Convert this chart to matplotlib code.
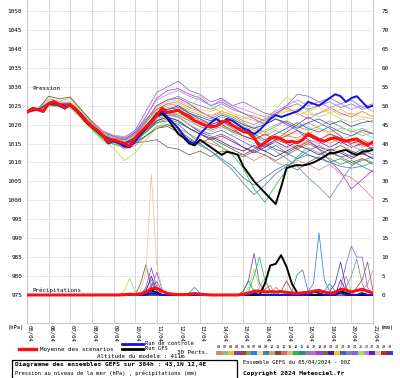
import matplotlib
matplotlib.use('Agg')
import matplotlib.pyplot as plt
from matplotlib.lines import Line2D
from matplotlib.patches import Rectangle
import numpy as np

W, H = 400, 378
MONO = 'DejaVu Sans Mono'

# ---- data ----
days = ['05/04', '06/04', '07/04', '08/04', '09/04', '10/04', '11/04', '12/04', '13/04',
        '14/04', '15/04', '16/04', '17/04', '18/04', '19/04', '20/04', '21/04']
hours6 = np.arange(0, 385, 6)
hours12 = np.arange(0, 385, 12)

mean_p = [1023.3, 1024.2, 1024.0, 1023.5, 1025.5, 1026.0, 1025.3, 1024.5, 1025.2, 1024.2,
          1022.5, 1020.8, 1019.6, 1018.5, 1017.2, 1015.3, 1016.0, 1015.5, 1015.0, 1014.3,
          1016.5, 1018.0, 1019.3, 1020.6, 1022.5, 1024.3, 1023.2, 1023.5, 1023.8, 1022.8,
          1022.2, 1021.0, 1020.4, 1019.8, 1019.5, 1019.6, 1020.6, 1021.0, 1019.8, 1019.0,
          1018.2, 1017.8, 1016.5, 1014.3, 1015.2, 1016.3, 1016.7, 1016.2, 1015.4, 1015.6,
          1015.2, 1016.0, 1017.5, 1016.8, 1016.0, 1015.6, 1016.2, 1016.5, 1016.0, 1015.6,
          1016.0, 1016.2, 1015.2, 1014.6, 1015.4]
ctrl_p = [1023.2, 1024.0, 1023.8, 1023.4, 1025.6, 1026.2, 1025.0, 1024.2, 1025.3, 1024.0,
          1022.8, 1021.0, 1019.4, 1018.2, 1017.0, 1015.0, 1015.6, 1015.2, 1014.2, 1014.0,
          1015.5, 1017.5, 1019.5, 1021.0, 1023.0, 1023.5, 1022.0, 1020.5, 1019.0, 1017.0,
          1015.5, 1015.0, 1017.5, 1019.0, 1020.5, 1021.5, 1020.5, 1021.5, 1021.0, 1020.0,
          1019.0, 1018.5, 1017.5, 1018.5, 1020.0, 1021.5, 1022.5, 1022.0, 1022.5, 1023.0,
          1023.5, 1024.5, 1026.0, 1025.5, 1025.0, 1026.0, 1027.0, 1028.0, 1027.5, 1026.0,
          1027.0, 1027.5, 1026.0, 1024.5, 1025.0]
gfs_p = [1023.4, 1024.3, 1024.1, 1023.6, 1025.4, 1025.8, 1025.4, 1024.8, 1025.0, 1024.0,
         1022.2, 1020.5, 1019.4, 1018.3, 1017.0, 1015.5, 1015.8, 1015.2, 1014.6, 1014.5,
         1016.0, 1017.5, 1019.0, 1021.0, 1022.5, 1023.0, 1021.5, 1019.5, 1017.5, 1016.5,
         1015.0, 1014.5, 1016.0, 1015.0, 1014.0, 1013.0, 1012.0, 1012.8, 1012.5, 1012.0,
         1009.0, 1007.0, 1005.0, 1003.5, 1002.0, 1000.5, 999.0, 1003.5, 1008.5, 1009.0,
         1009.3, 1009.2, 1009.5, 1010.0, 1010.7, 1011.5, 1012.5, 1012.5, 1013.0, 1013.3,
         1012.5, 1012.0, 1012.8, 1013.0, 1013.3]

mean_rr = [0, 0, 0, 0, 0, 0, 0, 0, 0, 0, 0, 0, 0, 0, 0, 0, 0, 0, 0.1, 0.2,
           0.1, 0.3, 0.8, 1.6, 1.8, 1.0, 0.4, 0.2, 0.1, 0.1, 0.2, 0.4, 0.2, 0.1, 0, 0, 0, 0, 0, 0,
           0.2, 0.5, 1.0, 1.0, 0.8, 0.9, 0.8, 0.9, 0.7, 0.5, 0.4, 0.6, 0.7, 1.0, 1.2, 0.8, 0.4, 0.7, 1.5, 1.3,
           0.8, 1.2, 1.5, 1.0, 0.5]
ctrl_rr = [0, 0, 0, 0, 0, 0, 0, 0, 0, 0, 0, 0, 0, 0, 0, 0, 0, 0, 0, 0,
           0, 0, 0, 0.5, 0.3, 0, 0, 0, 0, 0, 0, 0, 0, 0, 0, 0, 0, 0, 0, 0,
           0, 0, 0.5, 0, 0, 0, 0, 0, 0, 0, 0, 0, 0, 0.8, 0.5, 0, 0, 0, 0.6, 0,
           0, 0, 0.5, 0, 0]
gfs_rr = [0, 0, 0, 0, 0, 0, 0, 0, 0, 0, 0, 0, 0, 0, 0, 0, 0, 0, 0, 0,
          0, 0, 0.5, 1.2, 0.6, 0, 0, 0, 0, 0, 0, 0, 0, 0, 0, 0, 0, 0, 0, 0,
          0, 0, 0, 0, 3.0, 7.8, 8.2, 10.5, 7.5, 3.0, 0.5, 0, 0, 0, 0, 0, 0, 0, 1.0, 0.5,
          0, 0, 0, 0, 0]

# perturbation sea level pressure, every 12 h
p01 = [1023.5, 1024.2, 1025.8, 1025.0, 1025.6, 1023.0, 1020.0, 1017.0, 1015.5, 1013.5, 1014.5,
       1017.0, 1019.5, 1020.0, 1019.0, 1017.5, 1016.0, 1015.0, 1014.0, 1012.5, 1012.0, 1010.5,
       1012.0, 1010.0, 1009.0, 1010.5, 1009.5, 1008.0, 1009.5, 1007.0, 1006.0, 1003.5, 1000.5]
p02 = [1023.4, 1024.1, 1025.3, 1025.4, 1025.0, 1022.0, 1019.0, 1016.5, 1015.0, 1014.0, 1016.0,
       1019.0, 1022.0, 1023.5, 1022.5, 1021.0, 1020.5, 1019.0, 1020.0, 1018.0, 1019.5, 1017.0,
       1018.5, 1020.0, 1021.0, 1019.5, 1020.5, 1019.0, 1018.0, 1019.0, 1018.5, 1017.0, 1018.0]
p03 = [1023.2, 1024.0, 1025.6, 1025.5, 1025.4, 1022.8, 1020.0, 1017.5, 1016.5, 1015.5, 1017.0,
       1020.5, 1024.5, 1026.0, 1026.5, 1025.0, 1024.0, 1023.5, 1024.5, 1023.0, 1022.0, 1021.0,
       1020.5, 1022.0, 1023.5, 1024.0, 1022.5, 1023.0, 1024.0, 1022.5, 1023.0, 1022.0, 1021.5]
p04 = [1023.3, 1024.2, 1025.7, 1025.2, 1025.3, 1022.6, 1019.4, 1017.0, 1016.2, 1015.4, 1017.5,
       1021.0, 1025.0, 1026.5, 1027.0, 1025.5, 1023.5, 1022.0, 1021.0, 1019.0, 1017.0, 1016.0,
       1014.0, 1016.0, 1018.0, 1020.0, 1022.0, 1020.5, 1019.0, 1017.0, 1014.5, 1013.0, 1014.0]
p05 = [1023.3, 1023.8, 1025.0, 1024.8, 1024.8, 1022.0, 1019.2, 1016.8, 1015.5, 1014.8, 1015.5,
       1018.0, 1021.0, 1022.0, 1021.0, 1019.0, 1017.5, 1016.5, 1017.5, 1016.0, 1014.0, 1013.0,
       1014.5, 1016.0, 1015.0, 1013.5, 1015.0, 1013.5, 1012.0, 1013.0, 1011.5, 1012.5, 1011.0]
p06 = [1023.4, 1024.3, 1026.0, 1025.6, 1025.8, 1023.0, 1020.5, 1018.0, 1016.8, 1016.0, 1018.0,
       1021.5, 1024.0, 1025.5, 1025.0, 1023.5, 1022.5, 1021.5, 1023.0, 1022.0, 1020.5, 1019.0,
       1018.0, 1019.5, 1021.0, 1019.5, 1018.5, 1019.5, 1021.0, 1019.5, 1018.0, 1019.0, 1017.5]
p07 = [1023.3, 1024.0, 1025.4, 1025.3, 1025.6, 1022.7, 1019.8, 1017.4, 1016.0, 1014.5, 1015.8,
       1018.5, 1021.5, 1022.5, 1022.0, 1020.0, 1018.5, 1017.5, 1018.5, 1017.0, 1015.5, 1014.0,
       1013.0, 1014.5, 1012.5, 1011.0, 1013.0, 1014.5, 1013.0, 1011.5, 1012.0, 1013.5, 1012.0]
p08 = [1023.2, 1024.1, 1026.5, 1026.0, 1026.5, 1023.5, 1020.5, 1018.0, 1016.5, 1015.5, 1017.0,
       1019.5, 1022.0, 1023.0, 1022.0, 1020.5, 1019.5, 1018.0, 1019.0, 1018.5, 1017.0, 1016.0,
       1017.5, 1019.0, 1018.0, 1017.5, 1019.5, 1018.5, 1017.0, 1018.5, 1019.0, 1018.0, 1019.5]
p09 = [1023.4, 1024.0, 1025.2, 1025.0, 1024.8, 1022.2, 1019.4, 1017.0, 1015.8, 1014.8, 1016.0,
       1018.0, 1020.5, 1021.0, 1020.0, 1017.5, 1015.0, 1013.0, 1010.5, 1008.0, 1004.5, 1001.5,
       1004.0, 1007.0, 1009.0, 1011.0, 1012.0, 1011.0, 1010.0, 1009.0, 1008.5, 1009.0, 1007.5]
p10 = [1023.3, 1024.2, 1026.8, 1026.2, 1027.0, 1023.8, 1020.8, 1018.5, 1017.0, 1016.0, 1017.5,
       1020.0, 1023.0, 1024.5, 1024.0, 1022.5, 1021.5, 1020.5, 1022.0, 1021.0, 1019.5, 1018.5,
       1017.0, 1018.5, 1017.0, 1016.5, 1018.0, 1016.5, 1015.0, 1016.5, 1015.5, 1014.0, 1015.0]
p11 = [1023.3, 1024.0, 1027.5, 1026.8, 1027.3, 1024.0, 1020.8, 1018.0, 1016.5, 1015.0, 1015.5,
       1017.0, 1019.0, 1019.5, 1018.0, 1016.0, 1015.0, 1016.5, 1015.0, 1013.5, 1012.0, 1013.5,
       1015.0, 1013.5, 1012.5, 1014.0, 1015.5, 1014.0, 1013.0, 1014.5, 1013.0, 1012.0, 1013.5]
p12 = [1023.4, 1024.1, 1025.6, 1025.4, 1025.2, 1022.5, 1019.6, 1017.2, 1016.0, 1015.2, 1016.8,
       1019.5, 1022.5, 1023.5, 1024.0, 1022.5, 1021.0, 1020.0, 1021.0, 1020.0, 1018.5, 1017.0,
       1015.5, 1017.0, 1015.5, 1014.0, 1016.0, 1015.0, 1016.5, 1015.0, 1016.0, 1014.5, 1015.5]
p13 = [1023.2, 1023.9, 1025.0, 1024.7, 1024.6, 1022.0, 1019.0, 1016.5, 1015.5, 1014.6, 1015.8,
       1018.5, 1021.5, 1022.5, 1023.0, 1021.5, 1020.0, 1019.0, 1020.5, 1019.0, 1018.0, 1019.5,
       1018.0, 1016.5, 1017.5, 1016.0, 1017.5, 1019.0, 1017.5, 1016.0, 1017.0, 1018.0, 1016.5]
p14 = [1023.3, 1024.2, 1025.4, 1025.1, 1025.0, 1022.0, 1018.8, 1016.0, 1014.8, 1014.0, 1015.5,
       1018.0, 1020.5, 1021.5, 1020.5, 1019.0, 1017.5, 1016.0, 1014.0, 1012.0, 1008.5, 1003.0,
       999.5, 1004.0, 1008.0, 1011.5, 1014.0, 1012.5, 1011.0, 1009.5, 1010.5, 1009.0, 1010.0]
p15 = [1023.3, 1024.0, 1025.2, 1025.0, 1025.0, 1022.3, 1019.3, 1016.8, 1015.5, 1014.2, 1015.0,
       1017.0, 1019.0, 1020.0, 1018.5, 1016.5, 1014.5, 1013.0, 1011.0, 1009.0, 1006.0, 1004.0,
       1006.0, 1008.0, 1009.5, 1008.0, 1010.0, 1011.5, 1010.0, 1011.0, 1009.5, 1010.5, 1011.5]
p16 = [1023.4, 1024.1, 1025.6, 1025.4, 1025.3, 1022.6, 1019.7, 1017.3, 1016.1, 1015.0, 1016.6,
       1019.0, 1022.0, 1023.0, 1022.5, 1021.0, 1019.5, 1018.5, 1019.5, 1018.0, 1017.0, 1016.0,
       1014.5, 1013.0, 1011.0, 1009.0, 1006.0, 1003.5, 1000.6, 1005.0, 1009.0, 1011.0, 1010.0]
p17 = [1023.3, 1024.1, 1025.8, 1025.6, 1025.5, 1022.8, 1019.9, 1017.6, 1016.6, 1015.8, 1017.4,
       1020.5, 1024.0, 1025.5, 1026.0, 1024.5, 1023.5, 1022.0, 1023.5, 1022.5, 1021.0, 1020.0,
       1021.5, 1023.0, 1024.5, 1023.0, 1021.5, 1023.0, 1024.5, 1023.0, 1022.0, 1023.5, 1022.0]
p18 = [1023.3, 1024.0, 1025.4, 1025.2, 1025.2, 1022.6, 1019.8, 1017.5, 1016.5, 1016.0, 1018.0,
       1022.0, 1027.0, 1029.0, 1029.5, 1028.0, 1027.0, 1025.0, 1026.0, 1024.5, 1023.0, 1021.5,
       1020.0, 1021.5, 1020.0, 1018.5, 1016.0, 1013.5, 1010.5, 1007.5, 1003.0, 1005.5, 1008.0]
p19 = [1023.2, 1023.8, 1025.1, 1024.9, 1024.8, 1022.1, 1019.1, 1016.6, 1015.4, 1014.4, 1015.2,
       1015.5, 1016.0, 1014.0, 1013.5, 1012.0, 1013.0, 1011.5, 1013.0, 1012.5, 1011.5, 1013.0,
       1012.0, 1010.5, 1012.0, 1013.5, 1012.0, 1011.0, 1012.5, 1011.5, 1010.0, 1011.0, 1009.5]
p20 = [1023.3, 1024.1, 1025.5, 1025.3, 1025.1, 1022.4, 1019.5, 1017.1, 1015.9, 1015.0, 1016.2,
       1019.0, 1022.0, 1023.0, 1022.0, 1020.0, 1018.0, 1017.0, 1015.5, 1014.0, 1013.0, 1014.5,
       1013.0, 1011.5, 1013.0, 1014.5, 1013.5, 1012.0, 1013.5, 1012.5, 1011.0, 1012.5, 1011.0]
p21 = [1023.3, 1024.2, 1025.6, 1025.4, 1025.4, 1022.7, 1019.8, 1017.4, 1016.3, 1015.5, 1017.0,
       1020.0, 1023.5, 1025.0, 1025.5, 1024.0, 1023.0, 1022.5, 1023.5, 1022.5, 1021.5, 1022.5,
       1021.0, 1022.5, 1024.0, 1022.5, 1023.5, 1024.5, 1023.0, 1024.0, 1022.5, 1023.5, 1022.0]
p22 = [1023.4, 1024.0, 1025.3, 1025.2, 1025.0, 1022.4, 1019.5, 1017.0, 1015.8, 1014.8, 1016.2,
       1019.0, 1022.5, 1024.0, 1024.5, 1023.0, 1021.5, 1020.0, 1021.0, 1019.5, 1018.5, 1017.5,
       1016.0, 1017.5, 1019.0, 1020.5, 1019.0, 1018.0, 1019.5, 1018.0, 1017.0, 1018.5, 1017.5]
p23 = [1023.3, 1024.1, 1025.7, 1025.5, 1025.5, 1022.9, 1020.1, 1017.8, 1016.8, 1016.2, 1017.8,
       1021.0, 1025.0, 1026.5, 1027.5, 1026.0, 1025.0, 1024.0, 1025.5, 1024.0, 1023.0, 1022.0,
       1021.0, 1023.0, 1024.5, 1025.5, 1024.0, 1025.0, 1026.0, 1024.5, 1025.5, 1024.0, 1025.0]
p24 = [1023.3, 1024.1, 1025.8, 1025.6, 1025.6, 1023.0, 1020.3, 1018.0, 1017.0, 1016.5, 1018.5,
       1023.5, 1028.5, 1030.0, 1031.5, 1029.0, 1028.0, 1026.0, 1027.0, 1025.0, 1026.0, 1024.5,
       1023.0, 1022.5, 1025.0, 1028.0, 1027.5, 1026.0, 1027.0, 1025.5, 1026.5, 1024.5, 1025.5]
p25 = [1023.2, 1024.0, 1025.0, 1024.6, 1024.3, 1021.6, 1018.5, 1015.8, 1013.8, 1010.5, 1012.5,
       1016.0, 1019.0, 1021.0, 1022.0, 1024.0, 1027.8, 1025.0, 1023.0, 1021.5, 1020.0, 1019.0,
       1021.0, 1024.0, 1027.3, 1025.5, 1023.5, 1022.0, 1023.0, 1021.5, 1020.5, 1021.5, 1020.5]
p26 = [1023.4, 1024.2, 1026.0, 1025.8, 1025.8, 1023.2, 1020.4, 1018.2, 1017.2, 1016.8, 1018.2,
       1022.0, 1026.5, 1028.0, 1029.0, 1027.5, 1026.5, 1025.0, 1026.5, 1025.0, 1024.0, 1023.0,
       1022.0, 1023.5, 1025.0, 1026.5, 1025.0, 1026.0, 1024.5, 1025.5, 1024.0, 1025.0, 1023.5]
p27 = [1023.3, 1024.0, 1025.3, 1025.1, 1025.0, 1022.4, 1019.4, 1017.0, 1015.8, 1014.8, 1016.0,
       1018.5, 1021.0, 1022.0, 1021.0, 1019.0, 1017.5, 1016.0, 1017.0, 1015.5, 1014.0, 1012.5,
       1014.0, 1015.5, 1014.0, 1015.5, 1017.0, 1015.5, 1014.0, 1015.5, 1014.0, 1015.0, 1013.5]
p28 = [1023.3, 1024.1, 1026.2, 1025.9, 1026.0, 1023.3, 1020.3, 1017.8, 1016.6, 1015.6, 1017.0,
       1019.5, 1022.5, 1023.0, 1022.0, 1020.0, 1018.5, 1017.0, 1016.0, 1017.5, 1016.5, 1015.0,
       1016.5, 1015.0, 1013.5, 1015.0, 1014.0, 1012.5, 1014.0, 1013.0, 1014.5, 1013.0, 1012.0]
p29 = [1023.3, 1024.0, 1025.5, 1025.2, 1025.1, 1022.5, 1019.5, 1017.2, 1016.0, 1015.0, 1016.5,
       1019.0, 1022.0, 1023.0, 1023.5, 1021.5, 1020.5, 1019.0, 1020.0, 1018.5, 1017.0, 1016.0,
       1017.5, 1016.0, 1017.0, 1018.5, 1017.0, 1016.0, 1017.5, 1016.5, 1015.0, 1016.0, 1014.5]
p30 = [1023.4, 1024.1, 1025.6, 1025.4, 1025.4, 1022.6, 1019.6, 1017.2, 1016.0, 1015.2, 1016.6,
       1019.5, 1023.0, 1024.0, 1025.0, 1023.0, 1022.0, 1021.0, 1022.5, 1021.5, 1020.0, 1019.0,
       1020.0, 1021.5, 1020.5, 1019.0, 1020.5, 1021.5, 1020.0, 1021.0, 1019.5, 1020.5, 1021.0]
pert_p = [p01, p02, p03, p04, p05, p06, p07, p08, p09, p10, p11, p12, p13, p14, p15,
          p16, p17, p18, p19, p20, p21, p22, p23, p24, p25, p26, p27, p28, p29, p30]

pert_colors = ['#e8806a', '#90c080', '#e8c040', '#8040a0', '#a04040', '#80a060', '#3080e0',
               '#e8d8b0', '#4080c0', '#d0a060', '#6a5838', '#f06060', '#c8c080', '#20c040',
               '#408080', '#7090a0', '#d060d0', '#a040e0', '#806050', '#4020a0', '#f0d020',
               '#4060c0', '#8080c0', '#9060e0', '#a0e060', '#c080e0', '#6020c0', '#e0c8a0',
               '#c03020', '#3040c0']

# perturbation precipitation (mm / 6 h): member, 6 h step, amount
rain_member = [25, 25, 25, 11, 11, 11, 28, 28, 28, 28, 28, 18, 18, 18, 24, 24, 24, 20, 20, 20,
               4, 4, 16, 16, 16, 13, 13, 5, 5, 5, 9, 9, 9,
               4, 4, 4, 4, 4, 14, 14, 14, 14, 14, 25, 25, 25, 15, 15, 15, 5, 5, 5,
               9, 9, 9, 9, 7, 7, 7, 7, 7, 30, 30, 30, 30, 24, 24, 24, 24, 24, 24,
               16, 16, 16, 16, 19, 19, 19, 19, 1, 1, 1, 15, 15, 15, 27, 27, 10, 10,
               2, 2, 2, 6, 6, 12, 12]
rain_step = [18, 19, 20, 21, 22, 23, 21, 22, 23, 24, 25, 22, 23, 24, 23, 24, 25, 22, 23, 24,
             23, 24, 22, 23, 24, 23, 24, 23, 24, 25, 30, 31, 32,
             40, 41, 42, 43, 44, 41, 42, 43, 44, 45, 41, 42, 43, 40, 41, 42, 47, 48, 49,
             49, 50, 51, 52, 52, 53, 54, 55, 56, 56, 57, 58, 59, 58, 59, 60, 61, 62, 63,
             59, 60, 61, 62, 61, 62, 63, 64, 62, 63, 64, 55, 56, 57, 58, 59, 59, 60,
             43, 44, 45, 46, 47, 44, 45]
rain_mm = [1.0, 4.5, 0.5, 3.0, 8.0, 2.0, 1.0, 6.0, 32.0, 8.0, 1.5, 2.0, 7.2, 2.0, 2.0, 6.0, 1.5, 1.0, 5.0, 1.0,
           3.0, 1.0, 1.5, 4.0, 1.0, 3.0, 2.0, 2.5, 3.5, 1.0, 0.5, 2.0, 0.5,
           1.0, 4.0, 11.0, 3.0, 1.0, 1.0, 5.0, 10.0, 4.0, 1.0, 2.0, 6.8, 2.0, 1.0, 3.7, 1.0, 1.0, 3.7, 1.0,
           1.0, 5.5, 6.6, 1.0, 1.0, 3.0, 16.4, 4.0, 1.0, 1.0, 3.0, 8.7, 2.0, 2.0, 8.0, 12.9, 10.0, 10.0, 2.0,
           2.0, 5.0, 9.5, 3.0, 2.0, 4.0, 8.7, 1.0, 1.0, 3.0, 6.5, 1.0, 3.0, 1.0, 4.0, 1.0, 5.0, 1.0,
           2.0, 4.5, 1.0, 2.0, 1.0, 1.5, 2.5]

pert_rr = np.zeros((len(pert_p), len(hours6)))
for m, k, v in zip(rain_member, rain_step, rain_mm):
    pert_rr[m - 1, k] = v

BASE = 975  # 0 mm sits on 975 hPa

# ---- figure ----
fig = plt.figure(figsize=(W / 100, H / 100), dpi=100)
fig.patch.set_facecolor('white')
ax = fig.add_axes([27 / W, 1 - 323 / H, 346 / W, 323 / H])
ylo, yhi = 967.6, 1052.9
ax.set_xlim(0, 384)
ax.set_ylim(ylo, yhi)

for s in ax.spines.values():
    s.set_color('#c8c8c8')
    s.set_linewidth(0.7)
ax.spines['top'].set_visible(False)

for d in range(len(days)):
    ax.axvline(d * 24, color='#d4d4d4', lw=0.7, zorder=0)
for v in range(975, 1051, 5):
    ax.axhline(v, color='#c8c8c8', lw=0.7, ls=(0, (1, 1.5)), zorder=0)

for p, rr, c in zip(pert_p, pert_rr, pert_colors):
    ax.plot(hours12, p, color=c, lw=0.55, zorder=2)
    ax.plot(hours6, BASE + rr, color=c, lw=0.55, zorder=2)

ax.plot(hours6, np.array(gfs_p), color='black', lw=1.4, zorder=3)
ax.plot(hours6, BASE + np.array(gfs_rr), color='black', lw=1.4, zorder=3)
ax.plot(hours6, np.array(ctrl_p), color='#1010e0', lw=1.4, zorder=4)
ax.plot(hours6, BASE + np.array(ctrl_rr), color='#1010e0', lw=1.4, zorder=4)
ax.plot(hours6, np.array(mean_p), color='#ff1010', lw=2.2, zorder=5)
ax.plot(hours6, BASE + np.array(mean_rr), color='#ff1010', lw=2.2, zorder=5)

ax.set_yticks(range(975, 1051, 5))
ax.set_xticks([d * 24 for d in range(len(days))])
ax.set_xticklabels(days, rotation=270, family=MONO, fontsize=4.1, va='top', ha='left')
for lab in ax.get_yticklabels():
    lab.set_family(MONO)
ax.tick_params(axis='y', length=0, pad=3.5, labelsize=4.3)
ax.tick_params(axis='x', length=0, pad=1.2)

ax2 = ax.twinx()
ax2.set_ylim(ylo - BASE, yhi - BASE)
ax2.set_yticks(range(0, 76, 5))
for lab in ax2.get_yticklabels():
    lab.set_family(MONO)
ax2.tick_params(axis='y', length=0, pad=6, labelsize=4.3)
for s in ax2.spines.values():
    s.set_visible(False)

# ---- texts around the plot ----
def px(x, y):
    return x / W, 1 - y / H

def ftext(x, y, s, size=4.2, weight='normal', **kw):
    fig.text(*px(x, y), s, fontsize=size, family=MONO, fontweight=weight,
             va='center', ha='left', color='black', **kw)

def fline(x1, x2, y, color, lw):
    fig.add_artist(Line2D([x1 / W, x2 / W], [1 - y / H, 1 - y / H],
                          transform=fig.transFigure, color=color, lw=lw))

ftext(32, 89, 'Pression')
ftext(32, 290, 'Précipitations')
ftext(8, 327, '(hPa)', size=4.0)
ftext(381, 327, '(mm)', size=4.0)

fline(19, 36, 349, '#ff1010', 2.4)
ftext(40, 349, 'Moyenne des scénarios')
fline(122, 143, 343.5, '#1010e0', 2.0)
ftext(145, 343.5, 'Run de contrôle', size=3.9)
fline(122, 143, 349, 'black', 2.0)
ftext(145, 349, 'Run GFS', size=3.9)
ftext(97, 357, 'Altitude du modele : 411m')
ftext(177, 352, '30 Perts.')

bw = 5.9
for i, c in enumerate(pert_colors):
    x0 = 216 + i * bw
    fig.add_artist(Rectangle(px(x0, 355), bw / W, 4 / H, transform=fig.transFigure,
                             facecolor=c, edgecolor='none'))
    fig.text(*px(x0 + bw / 2, 347.5), '%02d' % (i + 1), fontsize=2.6, family=MONO,
             ha='center', va='center')

fig.add_artist(Rectangle(px(12, 381), 225 / W, 21 / H, transform=fig.transFigure,
                         facecolor='none', edgecolor='black', lw=0.9))
ftext(15, 364.5, 'Diagramme des ensembles GEFS sur 384h : 43,1N 12,4E', size=4.4, weight='bold')
ftext(15, 373, 'Pression au niveau de la mer (hPa) , précipitations (mm)', size=3.9)
ftext(243, 362, 'Ensemble GEFS du 05/04/2024 - 00Z', size=3.9)
ftext(243, 373, 'Copyright 2024 Meteociel.fr', size=4.5, weight='bold')

fig.savefig('out.png', dpi=100, facecolor='white')
